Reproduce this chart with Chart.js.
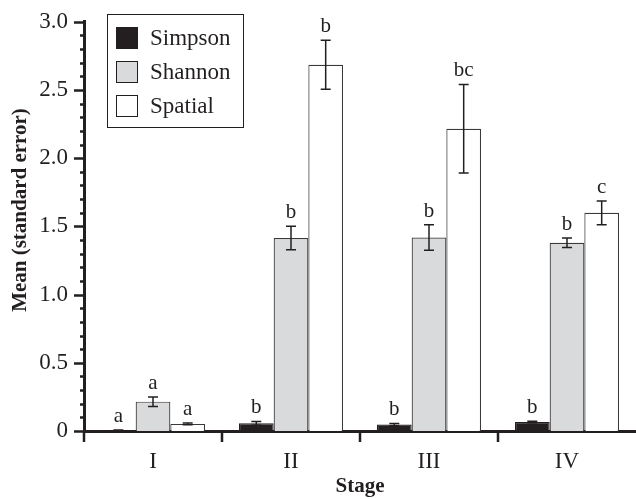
<!DOCTYPE html>
<html>
<head>
<meta charset="utf-8">
<script src="https://cdn.jsdelivr.net/npm/chart.js@4.4.0/dist/chart.umd.min.js"></script>
<style>
  html, body { margin: 0; padding: 0; background: #fff; }
  #wrap { width: 636px; height: 499px; position: relative; }
</style>
</head>
<body>
<div id="wrap"><canvas id="diversityChart"></canvas></div>
<script>
// stages and series
const stages = ['I', 'II', 'III', 'IV'];
const seriesNames = ['Simpson', 'Shannon', 'Spatial'];

const simpson = [0.005, 0.056, 0.047, 0.066];
const simpsonErr = [0.002, 0.014, 0.008, 0.005];
const shannon = [0.215, 1.415, 1.419, 1.38];
const shannonErr = [0.035, 0.087, 0.094, 0.035];
const spatial = [0.052, 2.685, 2.216, 1.60];
const spatialErr = [0.006, 0.18, 0.325, 0.087];

// significance letters
const simpsonLetters = ['a', 'b', 'b', 'b'];
const shannonLetters = ['a', 'b', 'b', 'b'];
const spatialLetters = ['a', 'b', 'bc', 'c'];

const yTicks = [0, 0.5, 1.0, 1.5, 2.0, 2.5, 3.0];

const serif = "'Liberation Serif', 'Times New Roman', serif";
const errors = [simpsonErr, shannonErr, spatialErr];
const letters = [simpsonLetters, shannonLetters, spatialLetters];
const fills = ['#231f20', '#d9dadc', '#ffffff'];
const borders = ['#231f20', '#3a3a3a', '#3a3a3a'];

// error bars, letters, axis ticks, legend box and y title
const extrasPlugin = {
    id: 'extras',
    afterDatasetsDraw(chart) {
        const ctx = chart.ctx;
        const y = chart.scales.y;
        ctx.save();
        chart.data.datasets.forEach((ds, di) => {
            const meta = chart.getDatasetMeta(di);
            meta.data.forEach((bar, i) => {
                const v = ds.data[i];
                const e = errors[di][i];
                const top = y.getPixelForValue(v + e);
                const bot = y.getPixelForValue(Math.max(0, v - e));
                const cap = 5;
                ctx.strokeStyle = '#231f20';
                ctx.lineWidth = 1.5;
                ctx.beginPath();
                ctx.moveTo(bar.x, top); ctx.lineTo(bar.x, bot);
                ctx.moveTo(bar.x - cap, top); ctx.lineTo(bar.x + cap, top);
                ctx.moveTo(bar.x - cap, bot); ctx.lineTo(bar.x + cap, bot);
                ctx.stroke();

                ctx.fillStyle = '#231f20';
                ctx.font = '21px ' + serif;
                ctx.textAlign = 'center';
                ctx.textBaseline = 'alphabetic';
                ctx.fillText(letters[di][i], bar.x, top - 8);
            });
        });
        ctx.restore();
    },
    afterDraw(chart) {
        const ctx = chart.ctx;
        const area = chart.chartArea;
        const y = chart.scales.y;
        ctx.save();
        ctx.strokeStyle = '#231f20';
        ctx.lineWidth = 2.5;
        ctx.beginPath();
        // y ticks: major every 0.5, minor every 0.1
        for (let k = 0; k <= 30; k++) {
            const py = Math.round(y.getPixelForValue(k / 10)) + 0.5;
            const len = (k % 5 === 0) ? 10 : 4;
            ctx.moveTo(area.left, py);
            ctx.lineTo(area.left - len, py);
        }
        // x ticks at stage boundaries
        const step = (area.right - area.left) / stages.length;
        for (let k = 0; k < stages.length; k++) {
            const px = Math.round(area.left + k * step);
            ctx.moveTo(px, area.bottom);
            ctx.lineTo(px, area.bottom + 11);
        }
        ctx.stroke();

        // legend
        ctx.lineWidth = 1;
        ctx.strokeStyle = '#231f20';
        ctx.strokeRect(107.5, 14.5, 136, 113);
        ctx.font = '23px ' + serif;
        ctx.textAlign = 'left';
        ctx.textBaseline = 'middle';
        seriesNames.forEach((name, i) => {
            const sy = 27 + i * 34;
            ctx.fillStyle = fills[i];
            ctx.fillRect(116, sy, 22, 22);
            ctx.strokeStyle = '#231f20';
            ctx.strokeRect(116.5, sy + 0.5, 21, 21);
            ctx.fillStyle = '#231f20';
            ctx.fillText(name, 150, sy + 12);
        });

        // y axis title
        ctx.font = 'bold 21px ' + serif;
        ctx.textAlign = 'center';
        ctx.textBaseline = 'middle';
        ctx.translate(21, 210);
        ctx.rotate(-Math.PI / 2);
        ctx.fillText('Mean (standard error)', 0, 0);
        ctx.restore();
    }
};

new Chart(document.getElementById('diversityChart'), {
    type: 'bar',
    data: {
        labels: stages,
        datasets: [simpson, shannon, spatial].map((vals, i) => ({
            label: seriesNames[i],
            data: vals,
            backgroundColor: fills[i],
            borderColor: borders[i],
            borderWidth: 1.2,
            borderSkipped: 'bottom',
            categoryPercentage: 0.754,
            barPercentage: 1.0
        }))
    },
    options: {
        responsive: true,
        maintainAspectRatio: false,
        animation: false,
        layout: { padding: { top: 15, right: 0, left: 0, bottom: 0 } },
        plugins: {
            legend: { display: false },
            tooltip: { enabled: false }
        },
        scales: {
            x: {
                grid: { display: false, tickLength: 8 },
                border: { display: true, width: 3, color: '#231f20' },
                ticks: { color: '#231f20', font: { family: serif, size: 23 }, padding: 9 },
                title: {
                    display: true, text: 'Stage', color: '#231f20',
                    font: { family: serif, size: 21, weight: 'bold' },
                    padding: { top: 0, bottom: 0 }
                },
                afterFit(scale) { scale.height = 68; }
            },
            y: {
                min: 0,
                max: 3,
                grid: { display: false, tickLength: 8 },
                border: { display: true, width: 3, color: '#231f20' },
                afterBuildTicks(scale) { scale.ticks = yTicks.map(v => ({ value: v })); },
                ticks: {
                    color: '#231f20',
                    font: { family: serif, size: 23 },
                    padding: 8,
                    callback: v => v === 0 ? '0' : Number(v).toFixed(1)
                },
                afterFit(scale) { scale.width = 84; }
            }
        }
    },
    plugins: [extrasPlugin]
});
</script>
</body>
</html>
